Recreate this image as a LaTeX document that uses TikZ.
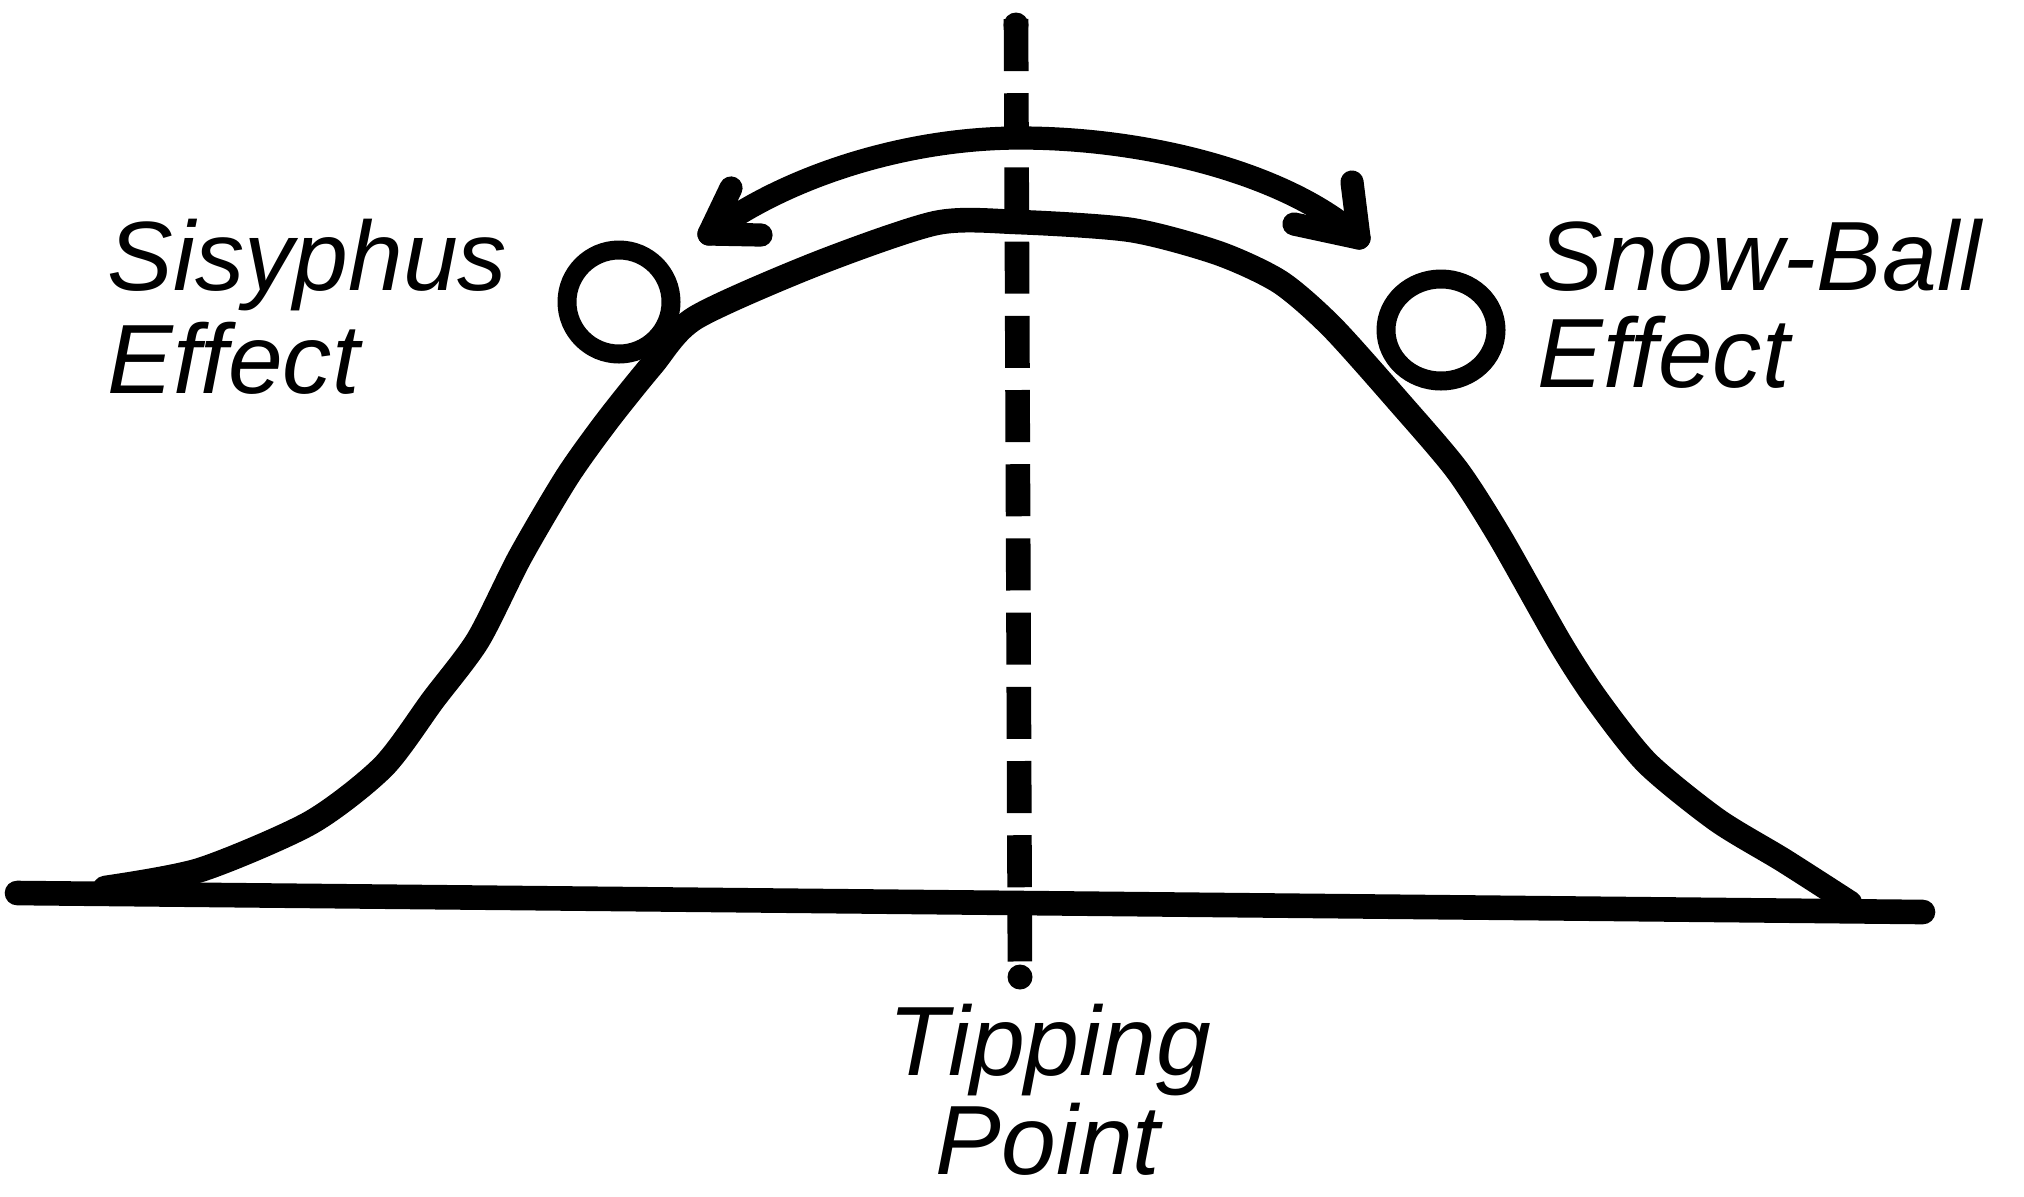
\documentclass[tikz,border=0pt]{standalone}
\usepackage{fontspec}
\setmainfont{Liberation Sans}
\begin{document}
\begin{tikzpicture}[x=0.01cm,y=-0.01cm,
  hill/.style={line width=7pt, line cap=round, line join=round},
  dashline/.style={line width=7pt, dash pattern=on 14.8pt off 6.3pt},
  arrowline/.style={line width=6.6pt, line cap=round, line join=round},
  ball/.style={line width=5.4pt},
  lbl/.style={font=\fontsize{28}{31}\selectfont\itshape, inner sep=0pt},
]
\useasboundingbox (0,0) rectangle (2024,1196);
% ground
\coordinate (gl) at (17,893);
\coordinate (gr) at (1923,912);
\draw[hill] (gl) -- (gr);
% hill
\draw[hill] plot[smooth, tension=0.45] coordinates {
  (105,888) (200,870) (310,823) (383,767) (433,700) (478,640) (520,557)
  (567,477) (607,421) (652,365) (695,318) (816,264) (936,223) (1017,222)
  (1131,230) (1218,253) (1280,282) (1332,327) (1400,403) (1457,470)
  (1500,537) (1560,643) (1597,700) (1647,763) (1717,820) (1783,860) (1850,903)};
% tipping line
\coordinate (dtop) at (1016,19);
\coordinate (dbot) at (1020,983);
\draw[dashline] (dtop) -- (dbot);
\fill (1016,25) circle[radius=12.5];
\fill (1020,977) circle[radius=12.5];
% double arrow arc
\coordinate (al) at (709,234);
\coordinate (am) at (1020,138);
\coordinate (ar) at (1359,238);
\draw[arrowline] (al) .. controls (780,180) and (900,138) .. (am)
  .. controls (1150,138) and (1290,175) .. (ar);
\draw[arrowline] (731,188) -- (al) -- (761,235);
\draw[arrowline] (1352,182) -- (ar) -- (1294,224);
% balls
\draw[ball] (619,302) circle[radius=52];
\draw[ball] (1441,330) ellipse[x radius=55, y radius=51];
% labels
\node[lbl, anchor=base west] (sis1) at (107,290) {Sisyphus};
\node[lbl, anchor=base west] (sis2) at (107,393) {Effect};
\node[lbl, anchor=base west] (snow1) at (1537,290) {Snow-Ball};
\node[lbl, anchor=base west] (snow2) at (1537,387) {Effect};
\node[lbl, anchor=base] (tip1) at (1050,1075) {Tipping};
\node[lbl, anchor=base] (tip2) at (1048,1174) {Point};
\end{tikzpicture}
\end{document}
